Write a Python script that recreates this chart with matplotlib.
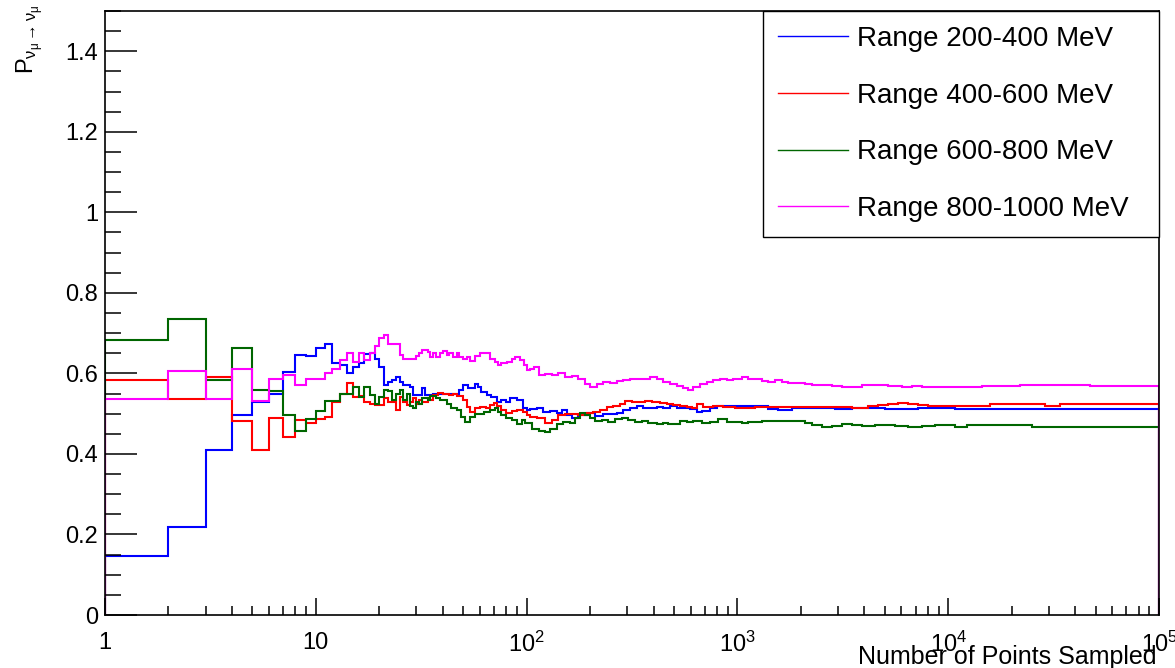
import matplotlib
matplotlib.use("Agg")
import matplotlib.pyplot as plt
from matplotlib.lines import Line2D
from matplotlib.ticker import FixedLocator, LogLocator, NullFormatter, FuncFormatter, MultipleLocator

plt.rcParams['font.family'] = ['Liberation Sans', 'DejaVu Sans']
plt.rcParams['mathtext.fontset'] = 'custom'
plt.rcParams['mathtext.rm'] = 'Liberation Sans'
plt.rcParams['mathtext.it'] = 'Liberation Sans'
plt.rcParams['mathtext.bf'] = 'Liberation Sans:bold'

# Running mean of the survival probability vs. number of sampled points.
# Each N value is the left edge of a bin; the value holds until the next N.
n_200_400 = [1, 2, 3, 4, 5, 6, 7, 8, 9, 10,
             11, 12, 13, 14, 15, 16, 17, 18, 19, 20,
             21, 22, 23, 24, 25, 26, 28, 29, 32, 33,
             36, 40, 46, 48, 50, 53, 57, 59, 61, 65,
             68, 72, 76, 80, 83, 90, 96, 100, 104, 112,
             120, 129, 139, 147, 155, 164, 176, 193, 211, 231,
             268, 288, 309, 333, 358, 385, 414, 445, 479, 515,
             554, 596, 641, 677, 742, 798, 890, 992, 1169, 1403,
             1564, 1809, 2421, 2904, 3484, 4179, 5013, 7213, 10770, 54400]
p_200_400 = [0.146, 0.218, 0.411, 0.496, 0.528, 0.548, 0.603, 0.646, 0.643, 0.662,
             0.674, 0.626, 0.620, 0.602, 0.616, 0.626, 0.647, 0.650, 0.635, 0.615,
             0.571, 0.579, 0.583, 0.590, 0.578, 0.571, 0.565, 0.546, 0.563, 0.546,
             0.549, 0.550, 0.549, 0.558, 0.571, 0.563, 0.573, 0.567, 0.554, 0.546,
             0.542, 0.529, 0.534, 0.529, 0.538, 0.534, 0.515, 0.509, 0.511, 0.513,
             0.505, 0.507, 0.501, 0.509, 0.496, 0.488, 0.496, 0.501, 0.494, 0.498,
             0.502, 0.509, 0.515, 0.519, 0.513, 0.515, 0.517, 0.515, 0.519, 0.513,
             0.515, 0.511, 0.505, 0.507, 0.513, 0.519, 0.520, 0.518, 0.518, 0.511,
             0.509, 0.513, 0.513, 0.512, 0.513, 0.513, 0.512, 0.513, 0.512, 0.5105]

n_400_600 = [1, 2, 3, 4, 5, 6, 7, 8, 9, 10,
             11, 12, 13, 14, 15, 16, 17, 18, 19, 20,
             21, 22, 23, 24, 25, 26, 27, 28, 29, 30,
             31, 32, 34, 35, 36, 38, 40, 43, 45, 47,
             50, 52, 54, 57, 60, 64, 67, 70, 72, 76,
             80, 85, 90, 96, 100, 104, 112, 122, 132, 141,
             152, 176, 193, 207, 223, 240, 258, 277, 293, 315,
             365, 392, 429, 462, 497, 534, 575, 607, 641, 689,
             769, 858, 974, 1212, 1403, 1809, 2421, 2904, 3484, 4179,
             4660, 5200, 5800, 6470, 7213, 8050, 10197, 15790, 28770, 33900]
p_400_600 = [0.583, 0.537, 0.592, 0.481, 0.409, 0.490, 0.443, 0.484, 0.477, 0.486,
             0.492, 0.530, 0.548, 0.577, 0.542, 0.543, 0.530, 0.525, 0.521, 0.521,
             0.538, 0.530, 0.530, 0.509, 0.542, 0.530, 0.521, 0.530, 0.538, 0.525,
             0.534, 0.530, 0.538, 0.534, 0.546, 0.552, 0.549, 0.546, 0.549, 0.544,
             0.534, 0.517, 0.505, 0.513, 0.516, 0.513, 0.521, 0.527, 0.519, 0.509,
             0.501, 0.507, 0.509, 0.505, 0.497, 0.492, 0.488, 0.477, 0.484, 0.496,
             0.500, 0.496, 0.502, 0.505, 0.509, 0.516, 0.519, 0.525, 0.532, 0.530,
             0.532, 0.530, 0.527, 0.525, 0.521, 0.519, 0.516, 0.513, 0.525, 0.517,
             0.520, 0.516, 0.513, 0.517, 0.5155, 0.517, 0.5155, 0.517, 0.515, 0.519,
             0.521, 0.525, 0.526, 0.524, 0.521, 0.520, 0.520, 0.5245, 0.520, 0.524]

n_600_800 = [1, 2, 3, 4, 5, 6, 7, 8, 9, 10,
             11, 12, 13, 14, 15, 16, 17, 18, 19, 20,
             21, 22, 23, 24, 25, 26, 27, 28, 29, 30,
             31, 32, 34, 35, 37, 39, 42, 44, 47, 49,
             51, 54, 57, 60, 63, 67, 71, 73, 76, 80,
             85, 90, 95, 98, 106, 114, 122, 129, 139, 149,
             161, 170, 179, 189, 200, 211, 227, 244, 263, 283,
             304, 327, 351, 378, 414, 445, 470, 534, 575, 618,
             677, 742, 812, 890, 974, 1048, 1127, 1304, 2093, 2250,
             2512, 2800, 3125, 3484, 3889, 4497, 5013, 5594, 6470, 7487,
             8652, 10770, 12235, 24900]
p_600_800 = [0.683, 0.735, 0.583, 0.663, 0.559, 0.556, 0.496, 0.457, 0.486, 0.507,
             0.532, 0.532, 0.548, 0.548, 0.567, 0.542, 0.567, 0.546, 0.525, 0.542,
             0.560, 0.556, 0.534, 0.548, 0.558, 0.534, 0.548, 0.519, 0.515, 0.529,
             0.525, 0.540, 0.534, 0.544, 0.538, 0.534, 0.525, 0.515, 0.510, 0.492,
             0.480, 0.492, 0.500, 0.499, 0.505, 0.509, 0.513, 0.505, 0.496, 0.488,
             0.484, 0.474, 0.484, 0.476, 0.461, 0.4575, 0.455, 0.463, 0.474, 0.480,
             0.476, 0.488, 0.5005, 0.4964, 0.488, 0.482, 0.484, 0.480, 0.486, 0.488,
             0.484, 0.480, 0.482, 0.477, 0.474, 0.476, 0.474, 0.482, 0.480, 0.4815,
             0.476, 0.480, 0.486, 0.480, 0.480, 0.476, 0.480, 0.4815, 0.476, 0.4716,
             0.4674, 0.470, 0.474, 0.473, 0.470, 0.4708, 0.4716, 0.469, 0.4674, 0.469,
             0.4708, 0.468, 0.4716, 0.468]

n_800_1000 = [1, 2, 3, 4, 5, 6, 7, 8, 9, 10,
              11, 12, 13, 14, 15, 16, 17, 18, 19, 20,
              21, 22, 23, 25, 26, 28, 30, 31, 32, 34,
              35, 36, 37, 39, 40, 42, 43, 45, 47, 48,
              50, 52, 54, 57, 60, 64, 67, 71, 73, 76,
              81, 85, 88, 93, 97, 100, 104, 108, 114, 122,
              132, 141, 152, 164, 176, 189, 200, 215, 231, 249,
              268, 288, 309, 333, 358, 385, 414, 445, 479, 515,
              554, 585, 618, 665, 715, 769, 827, 890, 957, 1025,
              1048, 1127, 1212, 1304, 1403, 1508, 1622, 1744, 2093, 2250,
              2800, 3125, 3484, 3889, 5200, 6013, 6710, 7487, 14420, 21900,
              47060]
p_800_1000 = [0.536, 0.605, 0.537, 0.611, 0.532, 0.586, 0.596, 0.570, 0.587, 0.587,
              0.600, 0.612, 0.633, 0.651, 0.629, 0.650, 0.633, 0.650, 0.668, 0.687,
              0.695, 0.673, 0.674, 0.645, 0.635, 0.635, 0.643, 0.650, 0.659, 0.654,
              0.641, 0.650, 0.641, 0.651, 0.656, 0.645, 0.650, 0.641, 0.650, 0.641,
              0.635, 0.640, 0.631, 0.643, 0.651, 0.650, 0.637, 0.629, 0.621, 0.626,
              0.629, 0.635, 0.641, 0.633, 0.6205, 0.608, 0.612, 0.616, 0.596, 0.598,
              0.596, 0.600, 0.5915, 0.593, 0.587, 0.573, 0.567, 0.573, 0.579, 0.577,
              0.582, 0.583, 0.587, 0.585, 0.587, 0.590, 0.585, 0.579, 0.573, 0.568,
              0.563, 0.560, 0.567, 0.573, 0.579, 0.583, 0.585, 0.583, 0.585, 0.587,
              0.590, 0.586, 0.585, 0.582, 0.579, 0.583, 0.579, 0.575, 0.573, 0.571,
              0.568, 0.565, 0.567, 0.571, 0.568, 0.565, 0.568, 0.565, 0.568, 0.571,
              0.568]

n_max = 100000
series = [
    ("Range 200-400 MeV", n_200_400, p_200_400, "#0000ff"),
    ("Range 400-600 MeV", n_400_600, p_400_600, "#ff0000"),
    ("Range 600-800 MeV", n_600_800, p_600_800, "#006600"),
    ("Range 800-1000 MeV", n_800_1000, p_800_1000, "#ff00ff"),
]

y_ticks = [0, 0.2, 0.4, 0.6, 0.8, 1.0, 1.2, 1.4]
x_ticks = [1, 10, 100, 1000, 10000, 100000]
x_tick_labels = ["1", "10", r"$10^{2}$", r"$10^{3}$", r"$10^{4}$", r"$10^{5}$"]

W, H = 1175, 668
fig = plt.figure(figsize=(W / 100, H / 100), dpi=100)
ax = fig.add_axes([105 / W, (H - 615) / H, (1159 - 105) / W, (615 - 11) / H])

for label, n, p, color in series:
    ax.stairs(p, list(n) + [n_max], baseline=0, color=color, lw=1.5)

ax.set_xscale("log")
ax.set_xlim(1, n_max)
ax.set_ylim(0, 1.5)

ax.xaxis.set_major_locator(FixedLocator(x_ticks))
ax.set_xticklabels(x_tick_labels)
ax.xaxis.set_minor_locator(LogLocator(base=10, subs=range(2, 10), numticks=20))
ax.xaxis.set_minor_formatter(NullFormatter())

ax.yaxis.set_major_locator(FixedLocator(y_ticks))
ax.yaxis.set_minor_locator(MultipleLocator(0.05))
ax.yaxis.set_major_formatter(FuncFormatter(lambda v, pos: f"{v:g}"))

ax.tick_params(axis="both", which="both", direction="in", top=False, right=False,
               width=1.1, labelsize=17)
ax.tick_params(axis="y", which="major", length=23, pad=5)
ax.tick_params(axis="y", which="minor", length=11.5)
ax.tick_params(axis="x", which="major", length=12, pad=12)
ax.tick_params(axis="x", which="minor", length=6.5)
for s in ax.spines.values():
    s.set_linewidth(1.2)

fig.text(15 / W, 1 - 5 / H, r"$P_{\nu_{\mu}\rightarrow\nu_{\mu}}$", rotation=90,
         ha="left", va="top", fontsize=17)
fig.text(1157 / W, 4 / H, "Number of Points Sampled", ha="right", va="baseline",
         fontsize=18)

handles = [Line2D([], [], color=c, lw=1.0) for _, _, _, c in series]
labels = [s[0] for s in series]
leg = ax.legend(handles, labels, loc="center",
                bbox_to_anchor=(658 / 1054, (615 - 237) / 604, 396 / 1054, 226 / 604),
                mode="expand", fontsize=20, frameon=True, fancybox=False,
                edgecolor="black", framealpha=1, borderpad=0.55, labelspacing=1.1,
                handlelength=2.52, handletextpad=0.32, borderaxespad=0)
leg.get_frame().set_linewidth(1.0)

fig.savefig("out.png", dpi=100)
